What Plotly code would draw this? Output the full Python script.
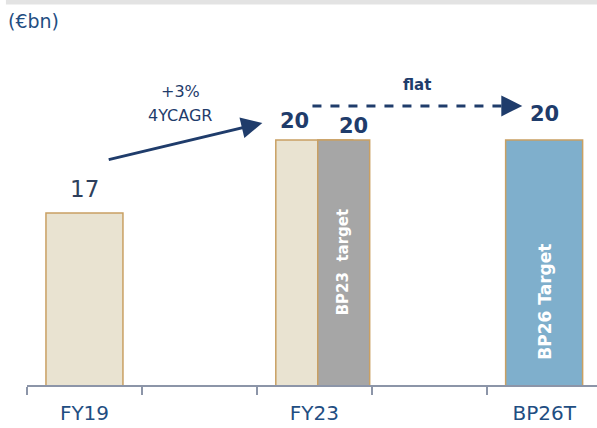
import plotly.graph_objects as go

categories = ["FY19", " ", "FY23", "  ", "BP26T"]
actual_cats = ["FY19", "FY23"]
actual_vals = [17, 20]
bp23_cat = ["FY23"]
bp23_vals = [20]
bp26_cat = ["BP26T"]
bp26_vals = [20]
bp23_label = "BP23\u00a0 target"
bp26_label = "BP26 Target"
cagr_lines = ["+3%", "4YCAGR"]

NAVY = "#1F3C6B"
BLUE_TXT = "#1F4E82"
OUTLINE = "#C9A063"
FONT = "DejaVu Sans, sans-serif"

fig = go.Figure()
fig.add_trace(go.Bar(x=actual_cats, y=actual_vals, width=0.67,
                     marker=dict(color="#E9E3D1", line=dict(color=OUTLINE, width=1.5)),
                     hoverinfo="skip"))
fig.add_trace(go.Bar(x=bp23_cat, y=bp23_vals, width=0.452, offset=0.03,
                     marker=dict(color="#A6A6A6", line=dict(color=OUTLINE, width=1.5)),
                     hoverinfo="skip"))
fig.add_trace(go.Bar(x=bp26_cat, y=bp26_vals, width=0.67,
                     marker=dict(color="#7FAFCC", line=dict(color=OUTLINE, width=1.5)),
                     hoverinfo="skip"))

y0 = 9.93
ppu = 24.33
plot_h = 345
fig.update_layout(
    width=597, height=428,
    margin=dict(l=27, r=0, t=40, b=43, autoexpand=False),
    plot_bgcolor="white", paper_bgcolor="white",
    barmode="overlay", showlegend=False,
    font=dict(family=FONT),
    xaxis=dict(type="category", categoryorder="array", categoryarray=categories,
               range=[-0.5, 4.46], tickson="boundaries", ticks="outside", ticklen=8,
               tickcolor="#8C95A8", tickwidth=2, ticklabelstandoff=9,
               showline=True, linecolor="#8C95A8", linewidth=2, showgrid=False,
               tickfont=dict(size=20, color=BLUE_TXT, family=FONT)),
    yaxis=dict(range=[y0, y0 + plot_h / ppu], visible=False, showgrid=False),
)

# top gray band
fig.add_shape(type="rect", xref="paper", yref="paper", x0=-0.037, x1=1.01,
              y0=1.103, y1=1.13, fillcolor="#E3E3E3", line=dict(width=0), layer="below")

fig.add_annotation(text="(€bn)", xref="paper", yref="paper", x=-0.0368, y=1.055,
                   xanchor="left", yanchor="middle", showarrow=False,
                   font=dict(size=19, color=BLUE_TXT, family=FONT))

# value labels
fig.add_annotation(text="17", x=0, y=actual_vals[0], yanchor="middle", yshift=24,
                   showarrow=False, font=dict(size=23, color="#2E3F5C", family=FONT))
fig.add_annotation(text="<b>20</b>", x=1.827, y=actual_vals[1], yanchor="middle", yshift=19,
                   showarrow=False, font=dict(size=21, color=NAVY, family=FONT))
fig.add_annotation(text="<b>20</b>", x=2.34, y=bp23_vals[0], yanchor="middle", yshift=14,
                   showarrow=False, font=dict(size=21, color=NAVY, family=FONT))
fig.add_annotation(text="<b>20</b>", x=4, y=bp26_vals[0], yanchor="middle", yshift=26,
                   showarrow=False, font=dict(size=21, color=NAVY, family=FONT))

# vertical in-bar labels
fig.add_annotation(text="<b>" + bp23_label + "</b>", x=2.245, y=14.99, textangle=-90,
                   showarrow=False, font=dict(size=15, color="white", family=FONT))
fig.add_annotation(text="<b>" + bp26_label + "</b>", x=4.005, y=13.34, textangle=-90,
                   showarrow=False, font=dict(size=17, color="white", family=FONT))

# CAGR arrow
fig.add_annotation(x=1.548, y=20.70, ax=0.198, ay=19.18, xref="x", yref="y",
                   axref="x", ayref="y", text="", showarrow=True,
                   arrowhead=2, arrowsize=1.4, arrowwidth=3, arrowcolor=NAVY)
fig.add_annotation(text=cagr_lines[0], x=0.834, y=22.01, showarrow=False,
                   font=dict(size=16, color=NAVY, family=FONT))
fig.add_annotation(text=cagr_lines[1], x=0.834, y=21.01, showarrow=False,
                   font=dict(size=16, color=NAVY, family=FONT))

# flat dashed arrow
fig.add_shape(type="line", x0=1.984, x1=3.70, y0=21.40, y1=21.40,
              line=dict(color=NAVY, width=3, dash="dash"))
fig.add_annotation(x=3.81, y=21.40, ax=3.66, ay=21.40, xref="x", yref="y",
                   axref="x", ayref="y", text="", showarrow=True,
                   arrowhead=2, arrowsize=1.4, arrowwidth=3, arrowcolor=NAVY)
fig.add_annotation(text="<b>flat</b>", x=2.897, y=22.26, showarrow=False,
                   font=dict(size=15, color=NAVY, family=FONT))

fig.write_html("out.html", config={"displayModeBar": False},
               post_script="document.body.style.margin='0';")
